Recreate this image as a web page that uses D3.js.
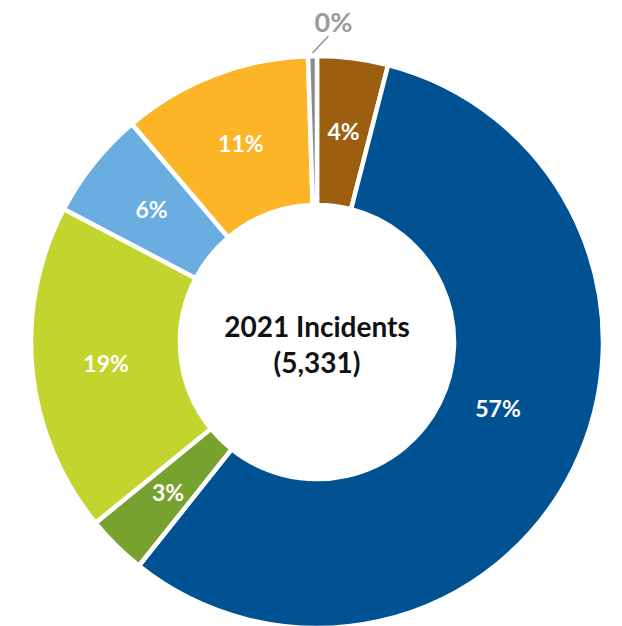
<!DOCTYPE html>
<html>
<head>
<meta charset="utf-8">
<script src="https://cdn.jsdelivr.net/npm/d3@7"></script>
<style>
  body { margin: 0; background: #fff; }
  svg { display: block; font-family: Lato, 'Open Sans', sans-serif; }
</style>
</head>
<body>
<div class="chart"></div>
<script>
// slices, clockwise from 12 o'clock
var categories = ['A', 'B', 'C', 'D', 'E', 'F', 'G'];
var values = [4.0, 56.7, 3.4, 18.6, 6.1, 10.7, 0.5];
var labels = ['4%', '57%', '3%', '19%', '6%', '11%', '0%'];
var colors = ['#9c5e0f', '#005293', '#78a22f', '#c2d52e', '#6aade0', '#fbb526', '#8c8d90'];
var title = ['2021 Incidents', '(5,331)'];

var width = 622, height = 626;
var cx = 317, cy = 342;
var outerR = 286, innerR = 137;

var svg = d3.select('.chart').append('svg').attr('width', width).attr('height', height);
var g = svg.append('g').attr('transform', 'translate(' + cx + ',' + cy + ')');

var pie = d3.pie().sort(null).value(function (d) { return d; });
var arcs = pie(values);

var arc = d3.arc().innerRadius(innerR).outerRadius(outerR);
var labelArc = d3.arc().innerRadius(212).outerRadius(212);

var color = d3.scaleOrdinal().domain(categories).range(colors);

g.selectAll('path')
  .data(arcs)
  .enter()
  .append('path')
  .attr('d', arc)
  .attr('fill', function (d, i) { return color(categories[i]); })
  .attr('stroke', '#fff')
  .attr('stroke-width', 4.5)
  .attr('stroke-linejoin', 'miter');

// labels inside the ring (the tiny last slice gets an outside label)
g.selectAll('text.pct')
  .data(arcs.slice(0, 6))
  .enter()
  .append('text')
  .attr('class', 'pct')
  .attr('transform', function (d) {
    var c = labelArc.centroid(d);
    // big slice label sits a bit nearer the start, like the original
    if (d.value > 50) {
      var a = d.startAngle + (d.endAngle - d.startAngle) * 0.47;
      c = [193 * Math.sin(a), -193 * Math.cos(a)];
    }
    return 'translate(' + c[0] + ',' + c[1] + ')';
  })
  .attr('text-anchor', 'middle')
  .attr('dy', '0.36em')
  .attr('fill', '#fff')
  .attr('font-weight', 700)
  .attr('font-size', 23)
  .text(function (d, i) { return labels[i]; });

var last = arcs[arcs.length - 1];
var mid = (last.startAngle + last.endAngle) / 2;
var p0 = [(outerR + 3) * Math.sin(mid), -(outerR + 3) * Math.cos(mid)];
var p1 = [p0[0] + 16, p0[1] - 17];

g.append('line')
  .attr('x1', p0[0]).attr('y1', p0[1])
  .attr('x2', p1[0]).attr('y2', p1[1])
  .attr('stroke', '#8c8d90')
  .attr('stroke-width', 1.3);

g.append('text')
  .attr('x', p1[0] + 5).attr('y', p1[1] - 4)
  .attr('text-anchor', 'middle')
  .attr('fill', '#9a9b9d')
  .attr('font-weight', 700)
  .attr('font-size', 27)
  .text(labels[labels.length - 1]);

g.selectAll('text.title')
  .data(title)
  .enter()
  .append('text')
  .attr('class', 'title')
  .attr('text-anchor', 'middle')
  .attr('y', function (d, i) { return -15 + i * 36; })
  .attr('dy', '0.36em')
  .attr('fill', '#111')
  .attr('font-weight', 700)
  .attr('font-size', 28)
  .text(function (d) { return d; });
</script>
</body>
</html>
